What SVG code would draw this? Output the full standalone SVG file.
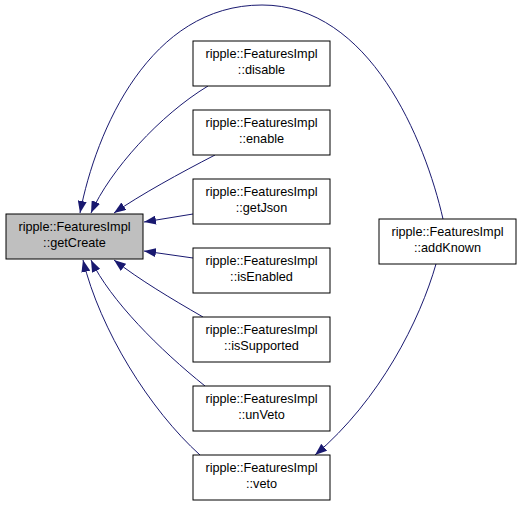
<svg xmlns="http://www.w3.org/2000/svg" width="523" height="507" viewBox="0 0 523 507">
<style>
.box{fill:#ffffff;stroke:#000000;stroke-width:1}
.cur{fill:#bfbfbf;stroke:#000000;stroke-width:1}
.lbl{font-family:"Liberation Sans",Arial,sans-serif;font-size:12.7px;fill:#000000;text-anchor:middle}
.edge{fill:none;stroke:#191970;stroke-width:1}
</style>
<defs>
<marker id="ah" viewBox="0 0 12 9" refX="12" refY="4.5" markerWidth="12" markerHeight="9" markerUnits="userSpaceOnUse" orient="auto">
<path d="M0,0 L12,4.5 L0,9 z" fill="#191970"/>
</marker>
</defs>
<rect width="523" height="507" fill="#ffffff"/>
<g id="edges">
<path class="edge" marker-end="url(#ah)" d="M443,219 C425,140 370,5 262,5 C150,5 96,130 80,213"/>
<path class="edge" marker-end="url(#ah)" d="M208,86 C160,115 110,170 91,213"/>
<path class="edge" marker-end="url(#ah)" d="M215,155 C180,173 140,195 114,213"/>
<path class="edge" marker-end="url(#ah)" d="M193,214 L144,222"/>
<path class="edge" marker-end="url(#ah)" d="M193,258 L144,251"/>
<path class="edge" marker-end="url(#ah)" d="M203,317 C170,298 140,280 114,260"/>
<path class="edge" marker-end="url(#ah)" d="M205,386 C160,350 110,300 91,260"/>
<path class="edge" marker-end="url(#ah)" d="M200,455 C150,410 100,330 83,260"/>
<path class="edge" marker-end="url(#ah)" d="M436,264 C420,320 380,400 315,455"/>
</g>
<g id="getCreate">
<rect class="cur" x="6" y="214" width="137" height="45"/>
<text class="lbl" x="74.5" y="231">ripple::FeaturesImpl</text>
<text class="lbl" x="74.5" y="247">::getCreate</text>
</g>
<g id="disable">
<rect class="box" x="193" y="41" width="137" height="45"/>
<text class="lbl" x="261.5" y="58">ripple::FeaturesImpl</text>
<text class="lbl" x="261.5" y="74">::disable</text>
</g>
<g id="enable">
<rect class="box" x="193" y="110" width="137" height="45"/>
<text class="lbl" x="261.5" y="127">ripple::FeaturesImpl</text>
<text class="lbl" x="261.5" y="143">::enable</text>
</g>
<g id="getJson">
<rect class="box" x="193" y="179" width="137" height="45"/>
<text class="lbl" x="261.5" y="196">ripple::FeaturesImpl</text>
<text class="lbl" x="261.5" y="212">::getJson</text>
</g>
<g id="isEnabled">
<rect class="box" x="193" y="248" width="137" height="45"/>
<text class="lbl" x="261.5" y="265">ripple::FeaturesImpl</text>
<text class="lbl" x="261.5" y="281">::isEnabled</text>
</g>
<g id="isSupported">
<rect class="box" x="193" y="317" width="137" height="45"/>
<text class="lbl" x="261.5" y="334">ripple::FeaturesImpl</text>
<text class="lbl" x="261.5" y="350">::isSupported</text>
</g>
<g id="unVeto">
<rect class="box" x="193" y="386" width="137" height="45"/>
<text class="lbl" x="261.5" y="403">ripple::FeaturesImpl</text>
<text class="lbl" x="261.5" y="419">::unVeto</text>
</g>
<g id="veto">
<rect class="box" x="193" y="455" width="137" height="45"/>
<text class="lbl" x="261.5" y="472">ripple::FeaturesImpl</text>
<text class="lbl" x="261.5" y="488">::veto</text>
</g>
<g id="addKnown">
<rect class="box" x="379" y="219" width="137" height="45"/>
<text class="lbl" x="447.5" y="236">ripple::FeaturesImpl</text>
<text class="lbl" x="447.5" y="252">::addKnown</text>
</g>
</svg>
